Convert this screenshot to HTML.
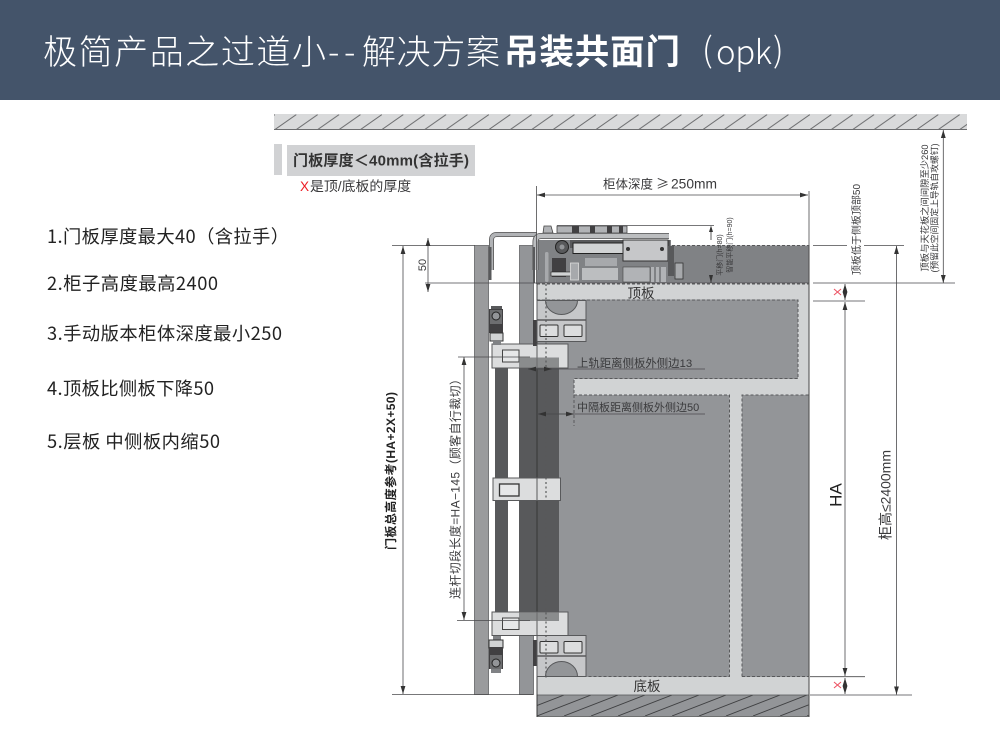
<!DOCTYPE html>
<html lang="zh"><head><meta charset="utf-8"><title>吊装共面门</title>
<style>
html,body{margin:0;padding:0;background:#fff;width:1000px;height:738px;overflow:hidden}
svg{display:block;position:absolute;left:0;top:0}
text{font-family:"Liberation Sans","Noto Sans CJK SC",sans-serif;fill:#3a3a3c}
.cjk{font-family:"Noto Sans CJK SC","Liberation Sans",sans-serif}
.d{stroke:#4a4a4c;stroke-width:.8;fill:none}
.dm{stroke:#4a4a4c;stroke-width:.8;fill:none;marker-start:url(#as);marker-end:url(#ae)}
.dash{stroke:#58595b;stroke-width:1;stroke-dasharray:3 2;fill:none}
.p{fill:#d1d3d4}
.l{font-size:18.3px;fill:#222;font-family:"Noto Sans CJK SC","Liberation Sans",sans-serif}
.t{font-size:34px;font-weight:300;fill:#fff;font-family:"Noto Sans CJK SC","Liberation Sans",sans-serif}
</style></head><body>
<svg width="1000" height="738" viewBox="0 0 1000 738" xmlns="http://www.w3.org/2000/svg">
<defs>
<marker id="ae" viewBox="0 0 8 6" refX="8" refY="3" markerWidth="8" markerHeight="6" markerUnits="userSpaceOnUse" orient="auto"><path d="M0 .6L8 3L0 5.4z" fill="#333"/></marker>
<marker id="as" viewBox="0 0 8 6" refX="0" refY="3" markerWidth="8" markerHeight="6" markerUnits="userSpaceOnUse" orient="auto"><path d="M8 .6L0 3L8 5.4z" fill="#333"/></marker>
<pattern id="h1" x="275" y="114.5" width="21.4" height="15" patternUnits="userSpaceOnUse"><line x1="0" y1="15" x2="21.4" y2="0" stroke="#6d6e70" stroke-width="1"/></pattern>
<pattern id="h2" x="537" y="695" width="27" height="21" patternUnits="userSpaceOnUse"><path d="M-27 21L27 0M0 21L54 0" stroke="#3f4042" stroke-width=".9"/></pattern>
</defs>

<!-- header -->
<rect width="1000" height="100" fill="#44546a"/>
<text class="t" x="43" y="64" textLength="283">极简产品之过道小</text>
<text class="t" x="328" y="64">-</text>
<text class="t" x="344" y="64">-</text>
<text class="t" x="362" y="64" textLength="138">解决方案</text>
<text class="t" x="504" y="64" style="font-size:34.5px;font-weight:700" textLength="176">吊装共面门</text>
<text class="t" x="702" y="62">(</text>
<text class="t" x="716" y="64" style="font-size:33px" textLength="56">opk</text>
<text class="t" x="773" y="62">)</text>

<!-- left list -->
<text class="l" x="47" y="243" textLength="242">1.门板厚度最大40（含拉手）</text>
<text class="l" x="47" y="290" textLength="171">2.柜子高度最高2400</text>
<text class="l" x="47" y="340" textLength="235">3.手动版本柜体深度最小250</text>
<text class="l" x="47" y="395" textLength="167">4.顶板比侧板下降50</text>
<text class="l" x="47" y="448" textLength="173">5.层板 中侧板内缩50</text>

<!-- ceiling -->
<rect x="274" y="114" width="693" height="15.5" fill="#d9dadb"/>
<rect x="274" y="114.5" width="693" height="15" fill="url(#h1)"/>
<line x1="274" y1="129.5" x2="967" y2="129.5" stroke="#6d6e70" stroke-width="1"/>

<!-- label -->
<rect x="274" y="144" width="8" height="31" fill="#d1d2d4"/>
<rect x="287" y="145" width="188" height="31" fill="#d1d2d4"/>
<text x="293" y="165.5" font-size="15" font-weight="700" style="fill:#333" textLength="176">门板厚度＜40mm(含拉手)</text>
<text x="300" y="191" font-size="13.6" style="fill:#ed1c24">X</text>
<text x="310" y="191" font-size="13.9">是顶/底板的厚度</text>

<!-- cabinet -->
<rect x="537" y="245.5" width="272" height="38" fill="#808285"/>
<rect x="537" y="284" width="272" height="411" fill="#939598"/>
<!-- light boards -->
<rect class="p" x="537" y="284" width="272" height="15.5"/>
<rect class="p" x="798" y="299" width="11" height="80"/>
<rect class="p" x="574" y="379" width="235" height="16"/>
<rect class="p" x="729.5" y="395" width="12.5" height="282"/>
<rect class="p" x="537" y="677" width="272" height="18"/>
<path class="dash" d="M537 284H809M537 300H798V378.500H574V395H729.500V676.500H537M574 395V426M742 676.500V395H809M742 676.500H809"/>
<!-- bottom hatch -->
<rect x="537" y="695" width="272" height="21.500" fill="#939598"/>
<rect x="537" y="695" width="272" height="21.500" fill="url(#h2)"/>
<rect x="537" y="695" width="272" height="21.500" fill="none" stroke="#58595b" stroke-width=".8"/>
<line x1="809" y1="245" x2="809" y2="717" stroke="#555" stroke-width="1.100"/>
<path d="M537 245.500H809" class="dash"/>
<text class="cjk" x="641" y="298" font-size="13.500" text-anchor="middle" style="fill:#333">顶板</text>
<text class="cjk" x="647" y="691" font-size="13.500" text-anchor="middle" style="fill:#333">底板</text>

<!-- door and side panel -->
<rect x="474.500" y="245.500" width="14" height="449" fill="#9a9b9d" stroke="#77787a" stroke-width="1"/>
<rect x="519.500" y="245.500" width="14" height="449" fill="#939598" stroke="#77787a" stroke-width="1"/>
<!-- rods -->
<rect x="495" y="366" width="13" height="248" fill="#58595b"/>
<rect x="519" y="360" width="40" height="261" fill="#58595b"/>
<line x1="537" y1="284" x2="537" y2="717" stroke="#333" stroke-width=".9"/>

<!-- hinge boxes -->
<g stroke="#58595b" stroke-width="1">
<rect x="537" y="300.500" width="49" height="41" fill="#c6c7c9"/>
<path d="M545.500 300.500A16 14 0 0 0 577.500 300.500Z" fill="#939598"/>
<line x1="537" y1="320" x2="586" y2="320" stroke-width="1.500"/>
<rect x="540" y="325" width="18" height="11.500" rx="1" fill="#dcddde" stroke="#333"/>
<rect x="564" y="325" width="18" height="11.500" rx="1" fill="#dcddde" stroke="#333"/>
<rect x="537" y="635.500" width="49" height="41" fill="#c6c7c9"/>
<path d="M545.500 676.500A16 15 0 0 1 577.500 676.500Z" fill="#939598"/>
<line x1="537" y1="656" x2="586" y2="656" stroke-width="1.500"/>
<rect x="540" y="641.500" width="18" height="11.500" rx="1" fill="#dcddde" stroke="#333"/>
<rect x="564" y="641.500" width="18" height="11.500" rx="1" fill="#dcddde" stroke="#333"/>
</g>

<!-- brackets -->
<g stroke="#58595b" stroke-width="1">
<rect x="492" y="344" width="76" height="24" fill="#dcddde"/>
<rect x="492" y="612" width="76" height="23.500" fill="#dcddde"/>
<rect x="493" y="478" width="67.500" height="22.500" fill="#dcddde"/>
<rect x="502.500" y="350" width="16.500" height="12" fill="#e6e7e8" stroke="#444"/>
<rect x="502.500" y="618" width="16.500" height="11.500" fill="#e6e7e8" stroke="#444"/>
<rect x="499.500" y="484" width="19.500" height="12" fill="#e6e7e8" stroke="#333" stroke-width="1.300"/>
<line x1="537" y1="344" x2="537" y2="368"/><line x1="537" y1="612" x2="537" y2="635"/><line x1="537" y1="478" x2="537" y2="500"/>
</g>
<rect x="519" y="357.500" width="40" height="10.500" fill="#6f7072" opacity=".75"/>
<rect x="519" y="612" width="40" height="9" fill="#6f7072" opacity=".75"/>
<line x1="546" y1="284" x2="546" y2="680" stroke="#58595b" stroke-width="1.200" stroke-dasharray="2 2.500"/>

<!-- rollers -->
<g>
<rect x="491" y="306" width="11" height="6" fill="#58595b"/>
<rect x="489" y="309" width="14" height="24" fill="#414042"/>
<rect x="490" y="310" width="12" height="14" fill="#6d6e70"/>
<circle cx="496" cy="316" r="4" fill="#939598" stroke="#222"/>
<rect x="490" y="333" width="13" height="8" fill="#d1d3d4" stroke="#333"/>
<rect x="493" y="341" width="8" height="4" fill="#808285"/>
<rect x="493" y="636" width="8" height="4" fill="#808285"/>
<rect x="489" y="640" width="14" height="8" fill="#d1d3d4" stroke="#333"/>
<rect x="489" y="647" width="14" height="22" fill="#414042"/>
<rect x="490" y="655" width="12" height="14" fill="#6d6e70"/>
<circle cx="496" cy="663" r="4" fill="#939598" stroke="#222"/>
<rect x="491" y="669" width="10" height="4" fill="#808285"/>
<rect x="533" y="320" width="3.500" height="26" fill="#414042"/>
<rect x="533" y="640" width="3.500" height="26" fill="#414042"/>
</g>

<!-- mechanism -->
<g>
<rect x="537" y="240" width="134" height="43" fill="#808285"/>
<rect x="570" y="240" width="100" height="8" fill="#58595b"/>
<path d="M543 233L544 226H551L553 233ZM557 226H627V233H557Z" fill="#b1b3b6" stroke="#444" stroke-width=".8"/>
<g fill="#414042"><rect x="572" y="226" width="7" height="7"/><rect x="590" y="226" width="5" height="7"/><rect x="607" y="226" width="5" height="7"/><rect x="619" y="226" width="4" height="7"/></g>
<rect x="573" y="243" width="50" height="10.500" fill="#d1d3d4" stroke="#222"/>
<rect x="623" y="240" width="45" height="21" fill="#c6c7c9" stroke="#333"/>
<circle cx="628" cy="249" r="2" fill="#333"/><circle cx="662" cy="249" r="2" fill="#333"/>
<circle cx="562" cy="247" r="6.500" fill="#58595b" stroke="#222"/><circle cx="562" cy="247" r="2.500" fill="#939598"/>
<rect x="545" y="252" width="3.500" height="30" rx="1.500" fill="#a7a9ac"/>
<rect x="552" y="258" width="14" height="19" fill="#414042"/>
<rect x="551" y="272" width="20" height="4" fill="#d1d3d4" stroke="#222" stroke-width=".6"/>
<rect x="570.500" y="263" width="8" height="17" fill="#a7a9ac" stroke="#ddd" stroke-width=".8"/>
<rect x="585" y="258" width="32" height="8" fill="#a7a9ac"/>
<rect x="582" y="268" width="36" height="12" fill="#bcbec0"/>
<rect x="623" y="267" width="27" height="15" fill="#b1b3b6" stroke="#444" stroke-width=".6"/>
<rect x="651" y="267" width="3" height="15" fill="#b1b3b6"/><rect x="656" y="267" width="3" height="15" fill="#b1b3b6"/><rect x="661" y="267" width="5" height="15" fill="#b1b3b6"/>
<rect x="675" y="263" width="8" height="16" fill="#a7a9ac" stroke="#333" stroke-width=".8"/>
<rect x="668" y="246" width="6" height="30" fill="#58595b"/>
</g>

<!-- door brackets -->
<path d="M491.500 270V240Q491.500 234.500 497 234.500H537" fill="none" stroke="#555" stroke-width="5"/>
<path d="M491.500 270V240Q491.500 234.500 497 234.500H537" fill="none" stroke="#b1b3b6" stroke-width="3.400"/>
<path d="M535.500 270V242Q535.500 236 541 236H669" fill="none" stroke="#555" stroke-width="6"/>
<path d="M535.500 270V242Q535.500 236 541 236H669" fill="none" stroke="#bcbec0" stroke-width="4.400"/>
<rect x="488.500" y="247" width="3" height="33" fill="#58595b"/>
<rect x="533" y="247" width="2" height="36" fill="#58595b"/>

<!-- dimensions: depth -->
<path class="d" d="M536.500 186V284M809 191V245"/>
<path class="dm" d="M537 195H808"/>
<text x="603" y="188.500" font-size="12.500">柜体深度</text>
<text class="cjk" x="656" y="188.500" font-size="13">≥</text>
<text x="671" y="188.500" font-size="13.800">250mm</text>

<!-- 50 -->
<path class="d" d="M392 245.500H475M425 283H809"/>
<path class="dm" d="M428 238V292"/>
<text transform="translate(426,265) rotate(-90)" font-size="11" text-anchor="middle">50</text>

<!-- total height -->
<path class="d" d="M392 694.500H533"/>
<path class="dm" d="M403 246V694"/>
<text transform="translate(395,471) rotate(-90)" font-size="12" font-weight="700" text-anchor="middle" textLength="158" style="fill:#222">门板总高度参考(HA+2X+50)</text>

<!-- link -->
<path class="d" d="M458 357H530M457 620.500H530"/>
<path class="dm" d="M464 357V620"/>
<text transform="translate(459.500,486) rotate(-90)" font-size="12" text-anchor="middle" textLength="226">连杆切段长度=HA−145（顾客自行裁切）</text>

<!-- callouts -->
<path d="M528 369H705" class="d"/>
<path d="M537 414H705" class="d"/>
<path d="M528 369H552" class="dm"/>
<path d="M538 414H574" class="dm"/>
<text x="577" y="367" font-size="11.400">上轨距离侧板外侧边13</text>
<text x="577" y="411" font-size="11">中隔板距离侧板外侧边50</text>

<!-- top small dims -->
<path class="d" d="M557 225.500H714"/>
<path d="M711 232V240M711 275V283" stroke="#333" stroke-width=".8" fill="none"/>
<path d="M711 225.500L709 232H713ZM711 283L709 275H713Z" fill="#333"/>
<text transform="translate(722,255) rotate(-90)" font-size="7" text-anchor="middle">平移门(h=80)</text>
<text transform="translate(732,245) rotate(-90)" font-size="7" text-anchor="middle">智能平移门(h=90)</text>

<!-- right dims -->
<path class="d" d="M813 245.500H847M864 245.500H904M813 283H955M813 301H865M810 676.700H865M810 695H912"/>
<path class="dm" d="M896.500 246V694.500"/>
<path class="dm" d="M845 284V300"/>
<path class="dm" d="M845 302V676"/>
<path class="dm" d="M845 678V694"/>
<path class="dm" d="M943.300 130V283"/>
<path d="M834 289L841 295M841 289L834 295M834 682L841 688M841 682L834 688" stroke="#ed5565" stroke-width="1.100"/>
<text transform="translate(841.500,495) rotate(-90)" font-size="17" text-anchor="middle" style="fill:#222">HA</text>
<text transform="translate(890.500,495) rotate(-90)" font-size="14" text-anchor="middle" textLength="90">柜高≤2400mm</text>
<text transform="translate(860,229.500) rotate(-90)" font-size="10" text-anchor="middle">顶板低于侧板顶部50</text>
<text transform="translate(928,208) rotate(-90)" font-size="9.300" text-anchor="middle">顶板与天花板之间间隙至少260</text>
<text transform="translate(937.500,208) rotate(-90)" font-size="8.800" text-anchor="middle">(预留此空间固定上导轨自攻螺钉)</text>
</svg>
</body></html>
